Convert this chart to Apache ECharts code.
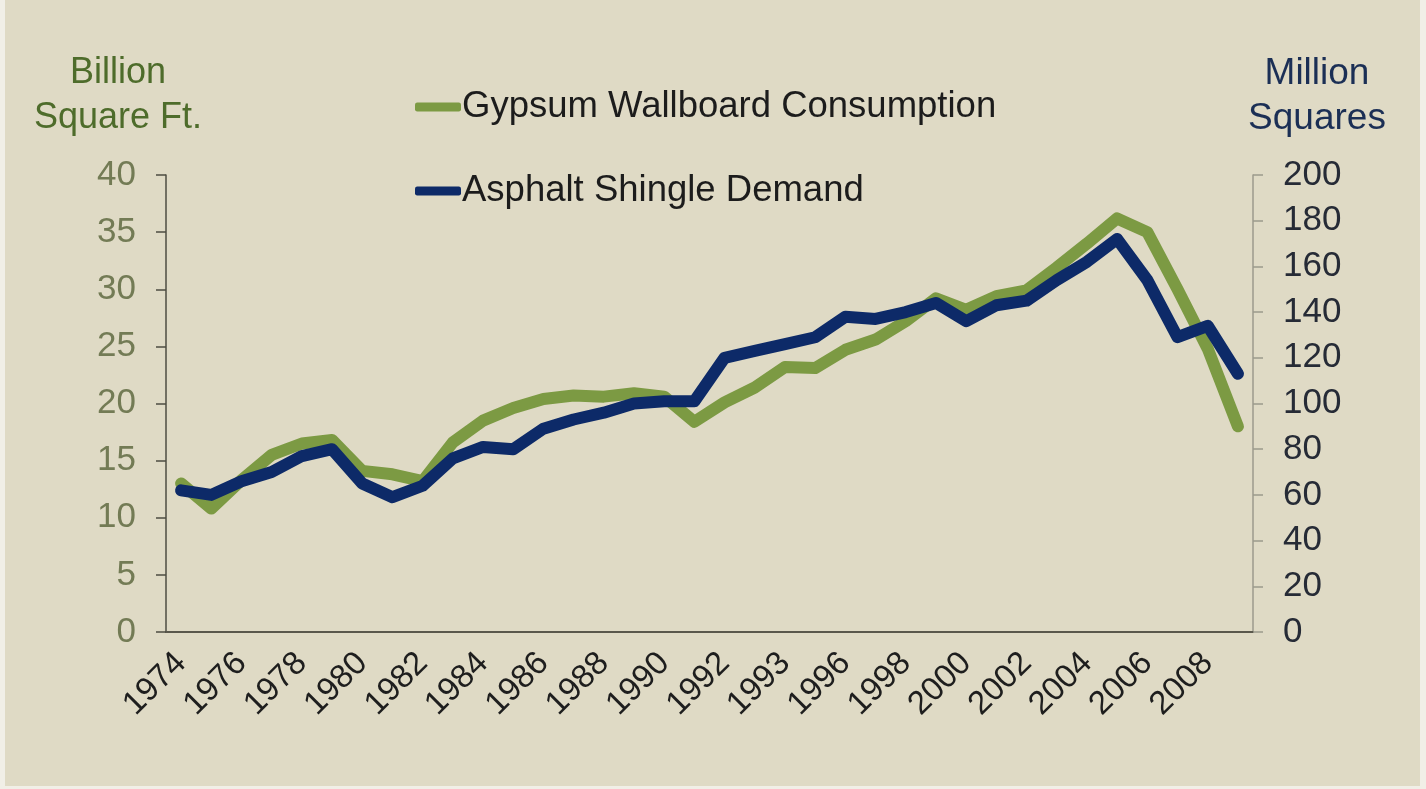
<!DOCTYPE html>
<html>
<head>
<meta charset="utf-8">
<script src="https://cdn.jsdelivr.net/npm/echarts@6/dist/echarts.min.js"></script>
<style>
  html, body { margin: 0; padding: 0; background: #f1efe7; }
  #chart { position: absolute; left: 5px; top: 0; width: 1415px; height: 786px; }
</style>
</head>
<body>
<div id="chart"></div>
<script>
// x labels as printed on the chart (note: the source labels the 1994 slot "1993")
var years = ['1974','1975','1976','1977','1978','1979','1980','1981','1982','1983',
             '1984','1985','1986','1987','1988','1989','1990','1991','1992','1993',
             '1993','1995','1996','1997','1998','1999','2000','2001','2002','2003',
             '2004','2005','2006','2007','2008','2009'];

// Gypsum wallboard consumption, billion square ft. (left axis)
var gypsum = [13.0, 10.8, 13.3, 15.5, 16.5, 16.8, 14.1, 13.8, 13.2, 16.6,
              18.5, 19.6, 20.4, 20.7, 20.6, 20.9, 20.6, 18.4, 20.1, 21.4,
              23.2, 23.1, 24.7, 25.6, 27.2, 29.2, 28.2, 29.4, 29.9, 31.9,
              34.0, 36.2, 35.0, 30.0, 24.8, 18.0];

// Asphalt shingle demand, million squares (right axis)
var shingle = [62, 60, 66, 70, 77, 80, 65, 59, 64, 76,
               81, 80, 89, 93, 96, 100, 101, 101, 120, 123,
               126, 129, 138, 137, 140, 144, 136, 143, 145, 154,
               162, 172, 154, 129, 134, 113];

var leftTicks = { min: 0, max: 40, interval: 5 };
var rightTicks = { min: 0, max: 200, interval: 20 };

var chart = echarts.init(document.getElementById('chart'));

var font = '"Liberation Sans", Arial, sans-serif';

option = {
    backgroundColor: '#dfdac5',
    animation: false,
    textStyle: { fontFamily: font },
    graphic: [
        {
            type: 'text',
            x: 113, y: 51,
            style: {
                text: 'Billion\nSquare Ft.',
                fill: '#4e6c2b',
                font: '36px ' + font,
                align: 'center',
                verticalAlign: 'top',
                lineHeight: 45
            }
        },
        {
            type: 'text',
            x: 1312, y: 51,
            style: {
                text: 'Million\nSquares',
                fill: '#1b2f55',
                font: '37px ' + font,
                align: 'center',
                verticalAlign: 'top',
                lineHeight: 45
            }
        }
    ],
    legend: {
        orient: 'vertical',
        left: 405,
        top: 81,
        itemGap: 42,
        itemWidth: 46,
        itemHeight: 9,
        icon: 'roundRect',
        textStyle: {
            fontSize: 36.5,
            color: '#1c1c1c',
            fontFamily: font,
            lineHeight: 42,
            padding: [0, 0, 0, -4]
        },
        data: ['Gypsum Wallboard Consumption', 'Asphalt Shingle Demand']
    },
    grid: {
        left: 161,
        right: 167,
        top: 175,
        bottom: 154,
        containLabel: false,
        outerBoundsMode: 'none'
    },
    xAxis: {
        type: 'category',
        boundaryGap: true,
        data: years,
        axisLine: { lineStyle: { color: '#5a584c', width: 2 } },
        axisTick: { length: 10, lineStyle: { color: '#5a584c', width: 1.5 } },
        axisLabel: {
            interval: 1,
            rotate: 45,
            margin: 26,
            fontSize: 33,
            color: '#1e1e1e',
            fontFamily: font
        }
    },
    yAxis: [
        {
            type: 'value',
            position: 'left',
            min: leftTicks.min,
            max: leftTicks.max,
            interval: leftTicks.interval,
            splitLine: { show: false },
            axisLine: { show: true, lineStyle: { color: '#4e4c42', width: 1.5 } },
            axisTick: { show: true, length: 10, lineStyle: { color: '#4e4c42', width: 1.5 } },
            axisLabel: { margin: 30, fontSize: 35, color: '#737b55', fontFamily: font }
        },
        {
            type: 'value',
            position: 'right',
            min: rightTicks.min,
            max: rightTicks.max,
            interval: rightTicks.interval,
            splitLine: { show: false },
            axisLine: { show: true, lineStyle: { color: '#9c9a8c', width: 1.5 } },
            axisTick: { show: true, length: 10, lineStyle: { color: '#9c9a8c', width: 1.5 } },
            axisLabel: { margin: 30, fontSize: 35, color: '#262b36', fontFamily: font }
        }
    ],
    series: [
        {
            name: 'Gypsum Wallboard Consumption',
            type: 'line',
            yAxisIndex: 0,
            symbol: 'none',
            lineStyle: { color: '#7c9a43', width: 12, join: 'round', cap: 'round' },
            itemStyle: { color: '#7c9a43' },
            data: gypsum
        },
        {
            name: 'Asphalt Shingle Demand',
            type: 'line',
            yAxisIndex: 1,
            symbol: 'none',
            lineStyle: { color: '#0d2a68', width: 12, join: 'round', cap: 'round' },
            itemStyle: { color: '#0d2a68' },
            data: shingle
        }
    ]
};

chart.setOption(option);
</script>
</body>
</html>
